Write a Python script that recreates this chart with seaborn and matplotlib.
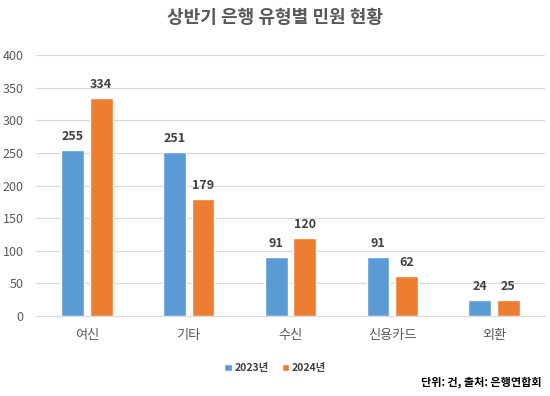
import pandas as pd
import matplotlib
matplotlib.use('Agg')
import matplotlib.pyplot as plt
import seaborn as sns

categories = ['여신', '기타', '수신', '신용카드', '외환']
years = ['2023년', '2024년']
values_2023 = [255, 251, 91, 91, 24]
values_2024 = [334, 179, 120, 62, 25]

df = pd.DataFrame({
    'category': categories * 2,
    'year': [years[0]] * len(categories) + [years[1]] * len(categories),
    'count': values_2023 + values_2024,
})

sns.set_style("white")
plt.rcParams['font.family'] = ['Noto Sans CJK KR', 'DejaVu Sans']

fig = plt.figure(figsize=(5.5, 3.96), dpi=100)
ax = fig.add_axes([0.0655, 0.202, 0.9255, 0.659])

sns.barplot(data=df, x='category', y='count', hue='year', order=categories,
            hue_order=years, palette=['#5B9BD5', '#ED7D31'], width=0.56,
            gap=0.2, saturation=1, ax=ax)

for c in ax.containers:
    ax.bar_label(c, padding=5, fontsize=9, fontweight='bold', color='#404040')

ax.set_ylim(0, 400)
ax.set_yticks(range(0, 401, 50))
ax.set_xlim(-0.5, 4.5)
ax.grid(axis='y', color='#D9D9D9', linewidth=0.9)
ax.set_axisbelow(True)
for s in ['top', 'right', 'left']:
    ax.spines[s].set_visible(False)
ax.spines['bottom'].set_color('#D9D9D9')
ax.tick_params(axis='both', length=0, colors='#595959', labelsize=9)
ax.tick_params(axis='y', pad=9)
ax.tick_params(axis='x', pad=9, labelsize=9.5)
ax.set_xlabel('')
ax.set_ylabel('')

leg = ax.legend(loc='center', bbox_to_anchor=(0.47, -0.2), ncol=2, frameon=False,
                fontsize=7.5, handlelength=0.7, handleheight=0.7,
                handletextpad=0.3, columnspacing=1.2)
for t in leg.get_texts():
    t.set_color('#404040')
    t.set_fontweight('bold')

fig.text(0.5, 0.955, '상반기 은행 유형별 민원 현황', ha='center', va='center',
         fontsize=13, fontweight='bold', color='#595959')
fig.text(0.985, 0.035, '단위: 건, 출처: 은행연합회', ha='right', va='center',
         fontsize=8, fontweight='bold', color='black')

fig.savefig('out.png', dpi=100)
